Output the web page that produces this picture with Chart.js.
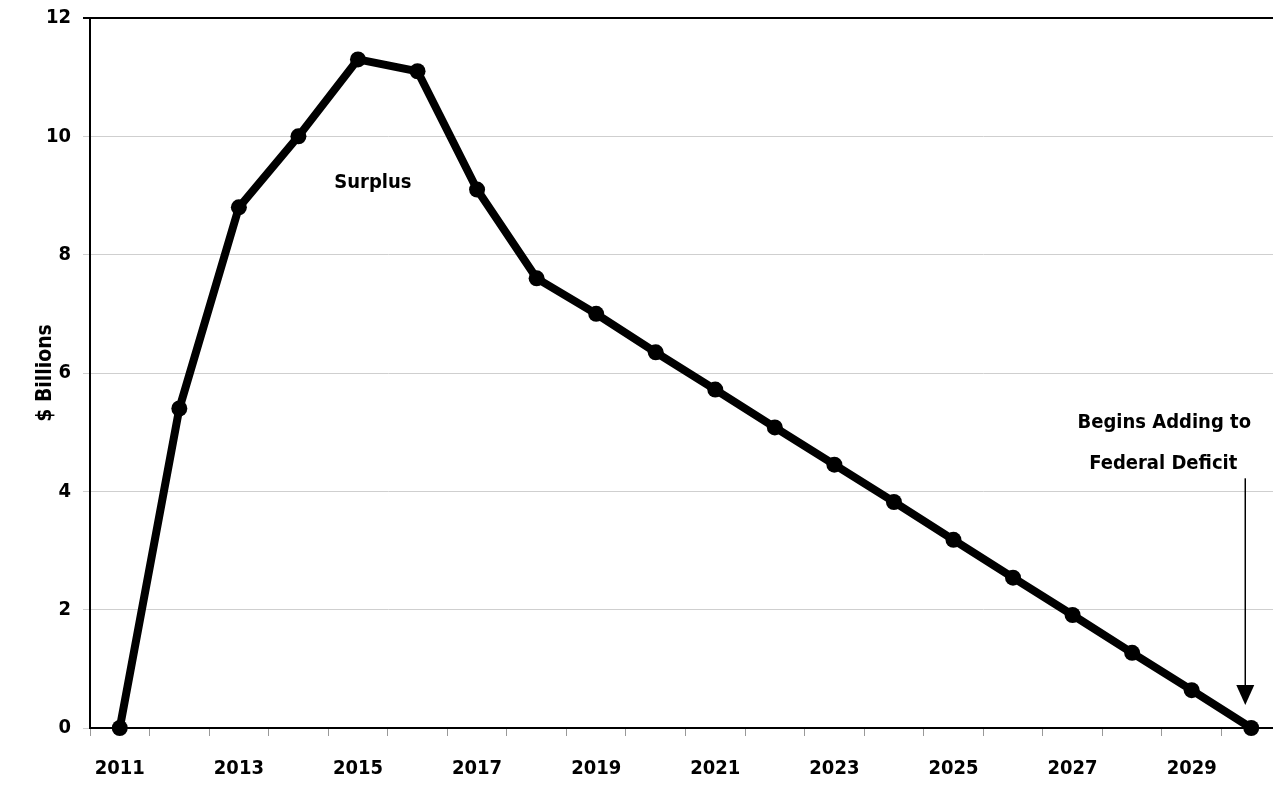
<!DOCTYPE html>
<html><head><meta charset="utf-8">
<script src="https://cdn.jsdelivr.net/npm/chart.js@4/dist/chart.umd.min.js"></script>
<style>
html,body{margin:0;padding:0;background:#fff;overflow:hidden;}
#c{display:block;}
</style></head>
<body><canvas id="c" width="1289" height="785" style="width:1289px;height:785px"></canvas>
<script>
const years = ['2011','2012','2013','2014','2015','2016','2017','2018','2019','2020','2021','2022','2023','2024','2025','2026','2027','2028','2029','2030'];
const surplus = [0, 5.4, 8.8, 10.0, 11.3, 11.1, 9.1, 7.6, 7.0, 6.35, 5.72, 5.08, 4.45, 3.82, 3.18, 2.54, 1.91, 1.27, 0.64, 0];
const yTicks = [0, 2, 4, 6, 8, 10, 12];
const yTitle = '$ Billions';
const noteSurplus = 'Surplus';
const noteDeficit = ['Begins Adding to', 'Federal Deficit'];

const FONT = "'DejaVu Sans Condensed', 'Liberation Sans Narrow', sans-serif";

const annot = {
  id: 'annot',
  afterDatasetsDraw(chart) {
    const ctx = chart.ctx, xs = chart.scales.x, ys = chart.scales.y;
    ctx.save();
    ctx.fillStyle = '#000';
    ctx.font = 'bold 20px ' + FONT;
    ctx.textAlign = 'center';
    ctx.textBaseline = 'middle';
    ctx.fillText(noteSurplus, xs.getPixelForValue(4.25), ys.getPixelForValue(9.22));
    const ax = xs.getPixelForValue(18.9);
    ctx.fillText(noteDeficit[0], ax - 81, ys.getPixelForValue(5.15));
    ctx.fillText(noteDeficit[1], ax - 82, ys.getPixelForValue(4.47));
    const yTop = ys.getPixelForValue(4.22), yTip = ys.getPixelForValue(0.39);
    ctx.strokeStyle = '#000';
    ctx.lineWidth = 1.5;
    ctx.beginPath();
    ctx.moveTo(ax, yTop);
    ctx.lineTo(ax, yTip - 15);
    ctx.stroke();
    ctx.beginPath();
    ctx.moveTo(ax - 9, yTip - 20);
    ctx.lineTo(ax + 9, yTip - 20);
    ctx.lineTo(ax, yTip);
    ctx.closePath();
    ctx.fill();
    ctx.restore();
  }
};

new Chart(document.getElementById('c'), {
  type: 'line',
  data: {
    labels: years,
    datasets: [{
      data: surplus,
      borderColor: '#000',
      backgroundColor: '#000',
      borderWidth: 8,
      pointRadius: 8,
      pointBackgroundColor: '#000',
      pointBorderWidth: 0,
      tension: 0,
      clip: false
    }]
  },
  options: {
    responsive: false,
    animation: false,
    layout: { padding: { left: 0, right: 1, top: 0, bottom: 0 } },
    plugins: { legend: { display: false }, tooltip: { enabled: false } },
    scales: {
      x: {
        type: 'category',
        offset: true,
        grid: { offset: true, drawOnChartArea: false, drawTicks: true, tickLength: 8, color: '#999', lineWidth: 1 },
        border: { display: true, color: '#000', width: 2 },
        ticks: {
          autoSkip: false, maxRotation: 0, padding: 21,
          color: '#000',
          font: { family: FONT, size: 20, weight: 'bold' },
          callback: (v, i) => (i % 2 === 0 ? years[i] : '')
        },
        afterFit(s) { s.height = 57; }
      },
      y: {
        min: 0, max: 12,
        afterBuildTicks(s) { s.ticks = yTicks.map(v => ({ value: v })); },
        grid: {
          drawTicks: true, tickLength: 7,
          color: ctx => (ctx.tick && ctx.tick.value === 12 ? '#000' : '#cfcfcf'),
          lineWidth: ctx => (ctx.tick && ctx.tick.value === 12 ? 2 : 1)
        },
        border: { display: true, color: '#000', width: 2 },
        ticks: {
          color: '#000', padding: 12,
          font: { family: FONT, size: 20, weight: 'bold', lineHeight: 0.6 }
        },
        title: {
          display: true, text: yTitle, color: '#000',
          font: { family: FONT, size: 21, weight: 'bold' },
          padding: { top: 33, bottom: 0 }
        },
        afterFit(s) { s.width = 90; }
      }
    }
  },
  plugins: [annot]
});
</script>
</body></html>
